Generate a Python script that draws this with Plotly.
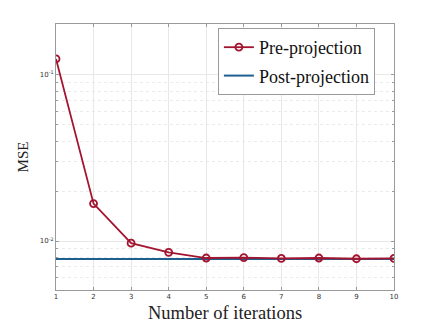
import plotly.graph_objects as go

iterations = [1, 2, 3, 4, 5, 6, 7, 8, 9, 10]
pre_projection = [0.125, 0.0168, 0.0097, 0.00855, 0.0079, 0.00795, 0.00785, 0.0079, 0.00782, 0.00785]
post_projection = [0.00778] * 10

y_major = [0.01, 0.1]
y_major_text = ["10<sup>-2</sup>", "10<sup>-1</sup>"]
y_minor = [0.006, 0.007, 0.008, 0.009, 0.02, 0.03, 0.04, 0.05, 0.06, 0.07, 0.08, 0.09, 0.2]

red = "#A2142F"
blue = "#1d5f8e"
serif = "Liberation Serif, Times New Roman, serif"

fig = go.Figure()
# blue first so the red markers sit on top; legendrank puts Pre first
fig.add_scatter(x=iterations, y=post_projection, name="Post-projection",
                mode="lines", line=dict(color=blue, width=2),
                legendgroup="b", legendrank=2)
fig.add_scatter(x=iterations, y=pre_projection, name="Pre-projection",
                mode="lines+markers", legendgroup="a", legendrank=1,
                line=dict(color=red, width=1.8),
                marker=dict(symbol="circle-open", size=7, color=red, line=dict(width=1.8)))

axis_common = dict(
    showline=True, linecolor="#9a9a9a", linewidth=1, mirror="ticks",
    ticks="inside", ticklen=3, tickcolor="#9a9a9a", automargin=False,
    showgrid=True, gridcolor="#e8e8e8", gridwidth=1, zeroline=False,
    tickfont=dict(family="DejaVu Sans, sans-serif", size=7, color="#333333"),
)

# page body has an 8px margin, so the figure is a bit smaller than the window
fig.update_layout(
    width=428, height=319,
    margin=dict(l=48, r=42, t=16, b=37),
    paper_bgcolor="white", plot_bgcolor="white",
    xaxis=dict(range=[1, 10], tickvals=iterations, **axis_common),
    yaxis=dict(type="log", range=[-2.295, -0.693],
               tickvals=y_major, ticktext=y_major_text,
               minor=dict(tickvals=y_minor, showgrid=True, griddash="dot",
                          gridcolor="#ebebeb", ticks="inside", ticklen=2,
                          tickcolor="#9a9a9a"),
               title=dict(text="MSE", standoff=7,
                          font=dict(family=serif, size=15, color="#222222")),
               **axis_common),
    legend=dict(x=0.479, y=0.985, xanchor="left", yanchor="top",
                bgcolor="white", bordercolor="#9a9a9a", borderwidth=1,
                font=dict(family=serif, size=18, color="#111111"),
                itemwidth=30, traceorder="grouped", tracegroupgap=2),
    showlegend=True,
)
fig.add_annotation(text="Number of iterations", xref="paper", yref="paper",
                   x=0.5, y=-0.04, xanchor="center", yanchor="top",
                   showarrow=False, font=dict(family=serif, size=18.5, color="#222222"))

fig.write_html("out.html")
